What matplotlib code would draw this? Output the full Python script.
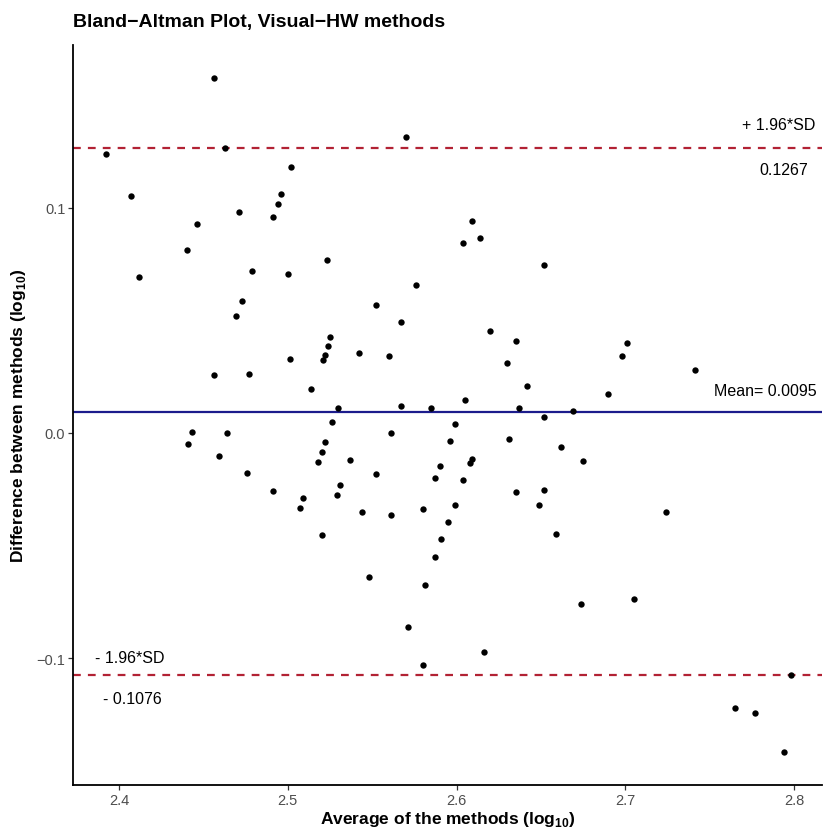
import matplotlib
matplotlib.use("Agg")
import numpy as np
import matplotlib.pyplot as plt

plt.rcParams["font.family"] = ["Liberation Sans", "DejaVu Sans"]
plt.rcParams["mathtext.fontset"] = "custom"
plt.rcParams["mathtext.rm"] = "Liberation Sans"
plt.rcParams["mathtext.bf"] = "Liberation Sans:bold"

# average of the two methods (log10)
avg = [
    2.456, 2.463, 2.392, 2.502, 2.407, 2.496, 2.494, 2.471, 2.446, 2.491,
    2.440, 2.523, 2.412, 2.479, 2.500, 2.473, 2.469, 2.525, 2.524, 2.522,
    2.521, 2.501, 2.456, 2.477, 2.514, 2.570, 2.609, 2.614, 2.604, 2.652,
    2.576, 2.552, 2.567, 2.620, 2.635, 2.542, 2.560, 2.630, 2.642, 2.605,
    2.567, 2.530, 2.585, 2.637, 2.669, 2.701, 2.698, 2.741, 2.690, 2.526,
    2.443, 2.441, 2.464, 2.459, 2.476, 2.522, 2.520, 2.518, 2.491, 2.509,
    2.507, 2.520, 2.561, 2.599, 2.596, 2.652, 2.631, 2.662, 2.537, 2.552,
    2.590, 2.609, 2.608, 2.587, 2.604, 2.531, 2.529, 2.635, 2.652, 2.544,
    2.561, 2.580, 2.599, 2.649, 2.595, 2.659, 2.591, 2.587, 2.548, 2.581,
    2.571, 2.616, 2.580, 2.675, 2.724, 2.674, 2.705, 2.798, 2.765, 2.777,
    2.794,
]

# difference between the two methods (log10)
diff = [
    0.1578, 0.1265, 0.1240, 0.1181, 0.1052, 0.1062, 0.1019, 0.0981, 0.0930, 0.0959,
    0.0813, 0.0769, 0.0692, 0.0721, 0.0707, 0.0588, 0.0519, 0.0428, 0.0388, 0.0347,
    0.0324, 0.0330, 0.0258, 0.0264, 0.0197, 0.1314, 0.0942, 0.0865, 0.0844, 0.0747,
    0.0656, 0.0569, 0.0492, 0.0453, 0.0408, 0.0357, 0.0341, 0.0312, 0.0208, 0.0147,
    0.0119, 0.0110, 0.0110, 0.0110, 0.0098, 0.0399, 0.0344, 0.0280, 0.0173, 0.0050,
    0.0004, -0.0048, -0.0001, -0.0101, -0.0179, -0.0041, -0.0086, -0.0129, -0.0258, -0.0288,
    -0.0335, -0.0453, 0.0000, 0.0039, -0.0034, 0.0071, -0.0025, -0.0061, -0.0121, -0.0182,
    -0.0147, -0.0116, -0.0135, -0.0201, -0.0208, -0.0230, -0.0274, -0.0261, -0.0255, -0.0350,
    -0.0363, -0.0338, -0.0320, -0.0321, -0.0396, -0.0449, -0.0472, -0.0552, -0.0640, -0.0674,
    -0.0862, -0.0975, -0.1031, -0.0126, -0.0352, -0.0760, -0.0738, -0.1074, -0.1222, -0.1246,
    -0.1416,
]

mean_diff = 0.0095
upper_loa = 0.1267
lower_loa = -0.1076

fig = plt.figure(figsize=(8.25, 8.29), dpi=100)
ax = fig.add_axes([0.0885, 0.0519, 0.908, 0.8926])

ax.axhline(upper_loa, color="#b22234", linewidth=1.6, dashes=(3.5, 3.2), zorder=1)
ax.axhline(lower_loa, color="#b22234", linewidth=1.6, dashes=(3.5, 3.2), zorder=1)
ax.axhline(mean_diff, color="#1c1c8c", linewidth=1.6, zorder=1)
ax.scatter(avg, diff, s=21, color="black", linewidths=0, zorder=3)

ax.set_xlim(2.3727, 2.8166)
ax.set_ylim(-0.1564, 0.1724)
ax.set_xticks([2.4, 2.5, 2.6, 2.7, 2.8])
ax.set_yticks([-0.1, 0.0, 0.1])
ax.set_xticklabels(["2.4", "2.5", "2.6", "2.7", "2.8"])
ax.set_yticklabels(["\u22120.1", "0.0", "0.1"])

for side in ["top", "right"]:
    ax.spines[side].set_visible(False)
for side in ["left", "bottom"]:
    ax.spines[side].set_linewidth(1.3)
    ax.spines[side].set_color("black")
ax.tick_params(axis="both", length=3.5, width=0.9, color="#333333",
               labelcolor="#4d4d4d", labelsize=10.5, pad=2)

ax.set_xlabel(r"Average of the methods (log$_{\mathbf{10}}$)",
              fontsize=12.5, fontweight="bold", labelpad=2)
ax.set_ylabel(r"Difference between methods (log$_{\mathbf{10}}$)",
              fontsize=12.5, fontweight="bold", labelpad=6)
ax.set_title("Bland\u2212Altman Plot, Visual\u2212HW methods", loc="left",
             fontsize=14, fontweight="bold", pad=14)

ax.text(2.8124, 0.1373, "+ 1.96*SD", ha="right", va="center", fontsize=11.5)
ax.text(2.8083, 0.1169, "0.1267", ha="right", va="center", fontsize=11.5)
ax.text(2.8132, 0.0191, "Mean= 0.0095", ha="right", va="center", fontsize=11.5)
ax.text(2.3858, -0.0996, "- 1.96*SD", ha="left", va="center", fontsize=11.5)
ax.text(2.3905, -0.1178, "- 0.1076", ha="left", va="center", fontsize=11.5)

fig.savefig("out.png", dpi=100)
